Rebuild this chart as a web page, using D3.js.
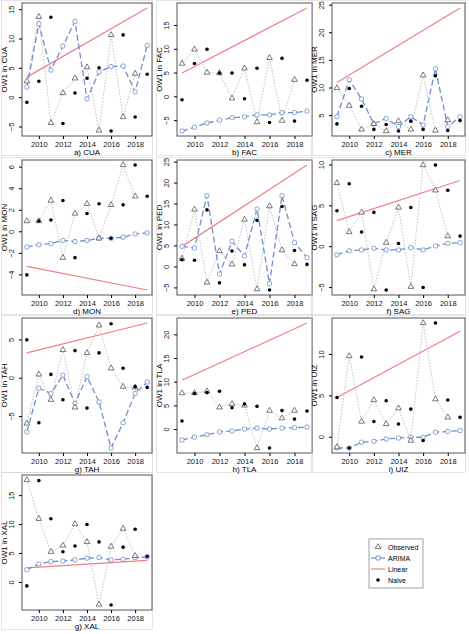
<!DOCTYPE html>
<html><head><meta charset="utf-8">
<script src="https://cdn.jsdelivr.net/npm/d3@7/dist/d3.min.js"></script>
<style>body{margin:0;background:#fff}svg{font-family:"Liberation Sans",Arial,sans-serif}</style>
</head><body><svg id="c" width="469" height="634"></svg>
<script>
const years=[2009,2010,2011,2012,2013,2014,2015,2016,2017,2018,2019];
const xTicks=[2010,2012,2014,2016,2018];
const panels=["a) CUA","b) FAC","c) MER","d) MON","e) PED","f) SAG","g) TAH","h) TLA","i) UIZ","g) XAL"];
const codes=["CUA","FAC","MER","MON","PED","SAG","TAH","TLA","UIZ","XAL"];
const observed=[
[2.8,13.8,-4.3,0.8,3.3,5.2,-5.6,10.7,-3.3,4.1],
[7,10,5.1,5,-0.3,6,-5.3,8.2,-5,3.6],
[10,6.8,2.5,3.5,2.2,4,2.5,12.3,2.3,4.2],
[1.0,1.0,2.9,-2.4,1.7,2.6,-0.6,2.5,6.2,3.3],
[2,13.7,-3.7,3.8,0.6,11.3,-5.3,14.5,4,0.7],
[7.8,1.8,4.2,-5.2,0.5,4.8,-4.9,10,6.9,1.3],
[-5.9,0.5,-2.8,3.7,-3.8,3.3,6.9,1.3,-1.1,-1.2],
[7.7,7.7,8.1,4.7,5.4,5.1,-3.9,4.0,2.4,4.0],
[-1.2,9.8,1.9,4.5,1.6,3.5,-0.4,13.8,4.6,2.4],
[17.7,11,5.3,6.4,10.1,7,-3.8,6.2,9.3,4.6]];
const naive=[
[-0.8,2.8,13.7,-4.4,0.8,3.3,5.1,-5.7,10.7,-3.3,4.0],
[-0.6,7,10,5,5,-0.4,6,-5.4,8.1,-5.1,3.5],
[3.5,9.9,6.7,2.5,3.4,2.2,4,2.5,12.2,2.3,4.1],
[-4.0,1.0,1.1,2.9,-2.4,1.7,2.6,-0.6,2.5,6.2,3.3],
[1.7,1.6,13.6,-3.8,3.8,0.5,11.1,-5.5,14.4,3.9,0.6],
[4.4,7.7,1.8,4.2,-5.3,0.4,4.8,-5,10,6.9,1.3],
[5.0,-5.8,0.5,-2.8,3.6,-3.9,3.3,7.1,1.3,-1.1,-1.2],
[1.8,7.6,7.8,8.1,4.6,5.4,4.9,-3.9,4.0,2.2,3.9],
[4.8,-1.3,9.7,1.9,4.4,1.6,3.4,-0.4,13.8,4.5,2.4],
[-0.6,17.6,11,5.3,6.3,10,7,-3.9,6.1,9.2,4.5]];
const arima=[
[1.8,12.6,4.7,8.8,13,-0.2,4.4,5.3,5.4,1,8.9],
[-7.2,-6.4,-5.5,-4.9,-4.4,-4.2,-3.8,-3.8,-3.3,-3.3,-3.0],
[4.8,11.5,8,3.5,4.5,3,4.8,3.3,13.5,3,4.8],
[-1.4,-1.2,-1.1,-0.8,-0.9,-0.8,-0.6,-0.6,-0.5,-0.2,-0.1],
[4.9,4.5,17,-1.7,6.1,2.6,13.8,-4,17,5.8,2.2],
[-1,-0.5,-0.4,-0.2,-0.4,-0.4,-0.1,-0.4,0.1,0.4,0.5],
[-7.0,-1.3,-2.0,0.4,-3.3,0.2,-3.1,-9.1,-5.8,-2.0,-0.5],
[-2.2,-1.6,-1.1,-0.5,-0.3,0.1,0.3,0.1,0.3,0.4,0.5],
[-1.3,-1.3,-0.6,-0.5,-0.2,-0.1,0,0,0.6,0.7,0.8],
[2.2,3.2,3.6,3.7,3.9,4.2,4.3,3.9,4.0,4.3,4.4]];
const linear=[[3.5,15.3],[5,18.7],[11,24.5],[-3.2,-5.4],[4.9,24.3],[3.2,8.1],[3.3,7.2],[10.4,22.5],[4.8,12.8],[2.5,3.8]];
const yTicks=[[-5,0,5,10,15],[-5,0,5,10,15],[5,10,15,20,25],[-4,-2,0,2,4,6],[-5,0,5,10,15,20,25],[-5,0,5,10],[-5,0,5],[0,5,10,15,20],[0,5,10],[0,5,10,15]];

const svg=d3.select("#c");
const colX=[[22,152],[177,312],[332,465]];
const rowY=[[3,136],[160,295],[318,453],[475,610]];
const fmt=v=>v<0?"\u2212"+Math.abs(v):String(v);
panels.forEach((name,i)=>{
  const c=i%3,r=Math.floor(i/3);
  const [x0,x1]=colX[c],[y0,y1]=rowY[r];
  const all=observed[i].concat(naive[i],arima[i],linear[i]);
  let [mn,mx]=d3.extent(all);const pad=(mx-mn)*0.04;
  const x=d3.scaleLinear().domain([2009-0.4,2019+0.4]).range([x0,x1]);
  const y=d3.scaleLinear().domain([mn-pad,mx+pad]).range([y1,y0]);
  const g=svg.append("g");
  g.append("rect").attr("x",x0-20.5).attr("y",y0-2.5).attr("width",x1-x0+21).attr("height",y1-y0+22).attr("fill","none").attr("stroke","#ccc").attr("stroke-width",0.5);
  g.append("rect").attr("x",x0).attr("y",y0).attr("width",x1-x0).attr("height",y1-y0).attr("fill","none").attr("stroke","#555").attr("stroke-width",1);
  const ax=g.append("g").attr("transform",`translate(0,${y1})`).call(d3.axisBottom(x).tickValues(xTicks).tickFormat(d3.format("d")).tickSize(3).tickSizeOuter(0));
  ax.select(".domain").remove();ax.selectAll("text").attr("font-size",7.5).attr("dy","0.6em").attr("fill","#111");
  const ay=g.append("g").attr("transform",`translate(${x0},0)`).call(d3.axisLeft(y).tickValues(yTicks[i]).tickFormat(fmt).tickSize(3).tickSizeOuter(0));
  ay.select(".domain").remove();
  ay.selectAll("text").attr("font-size",7.5).attr("x",null).attr("dy",null).attr("text-anchor","middle")
    .attr("transform",d=>`translate(-8,${y(d)}) rotate(-90)`).attr("y",0).attr("fill","#111");
  ay.selectAll(".tick").attr("transform",null);
  ay.selectAll(".tick line").attr("y1",d=>y(d)).attr("y2",d=>y(d));
  g.append("text").attr("transform",`translate(${x0-15},${(y0+y1)/2}) rotate(-90)`).attr("text-anchor","middle").attr("font-size",8).text("OW1 in "+codes[i]);
  g.append("text").attr("x",(x0+x1)/2).attr("y",y1+19).attr("text-anchor","middle").attr("font-size",8).text(name);
  g.append("line").attr("x1",x(2009)).attr("x2",x(2019)).attr("y1",y(linear[i][0])).attr("y2",y(linear[i][1])).attr("stroke","#f08080").attr("stroke-width",1.2);
  const line=d3.line().x((d,k)=>x(years[k])).y(d=>y(d));
  g.append("path").attr("d",line(observed[i])).attr("fill","none").attr("stroke","#bbb").attr("stroke-dasharray","1.5,1.5").attr("stroke-width",0.9);
  g.append("path").attr("d",line(arima[i])).attr("fill","none").attr("stroke","#6f8fcf").attr("stroke-dasharray","6,3").attr("stroke-width",1.3);
  g.selectAll(".sq").data(arima[i]).join("rect").attr("x",(d,k)=>x(years[k])-2).attr("y",d=>y(d)-2).attr("width",4).attr("height",4).attr("rx",1).attr("fill","#fff").attr("stroke","#6f8fcf").attr("stroke-width",0.8);
  const tri=d3.symbol().type(d3.symbolTriangle).size(14);
  g.selectAll(".tr").data(observed[i]).join("path").attr("d",tri).attr("transform",(d,k)=>`translate(${x(years[k])},${y(d)})`).attr("fill","#fff").attr("stroke","#222").attr("stroke-width",0.6);
  g.selectAll(".nv").data(naive[i]).join("circle").attr("cx",(d,k)=>x(years[k])).attr("cy",d=>y(d)).attr("r",1.8).attr("fill","#000");
});
const L=svg.append("g").attr("transform","translate(369,539)");
L.append("rect").attr("width",54).attr("height",49).attr("fill","#fff").attr("stroke","#777").attr("stroke-width",0.7);
const items=["Observed","ARIMA","Linear","Naive"];
items.forEach((t,k)=>{
  const yy=8+k*11;
  L.append("text").attr("x",19).attr("y",yy+3).attr("font-size",7).text(t);
  if(k==0){L.append("line").attr("x1",3).attr("x2",15).attr("y1",yy).attr("y2",yy).attr("stroke","#bbb").attr("stroke-dasharray","1.5,1.5");
    L.append("path").attr("d",d3.symbol().type(d3.symbolTriangle).size(14)).attr("transform",`translate(9,${yy})`).attr("fill","#fff").attr("stroke","#222").attr("stroke-width",0.6);}
  if(k==1){L.append("line").attr("x1",2).attr("x2",16).attr("y1",yy).attr("y2",yy).attr("stroke","#6f8fcf").attr("stroke-width",1.2);
    L.append("rect").attr("x",7).attr("y",yy-2).attr("width",4).attr("height",4).attr("rx",1).attr("fill","#fff").attr("stroke","#6f8fcf");}
  if(k==2)L.append("line").attr("x1",2).attr("x2",16).attr("y1",yy).attr("y2",yy).attr("stroke","#f08080").attr("stroke-width",1.2);
  if(k==3)L.append("circle").attr("cx",9).attr("cy",yy).attr("r",1.8);
});
</script></body></html>
